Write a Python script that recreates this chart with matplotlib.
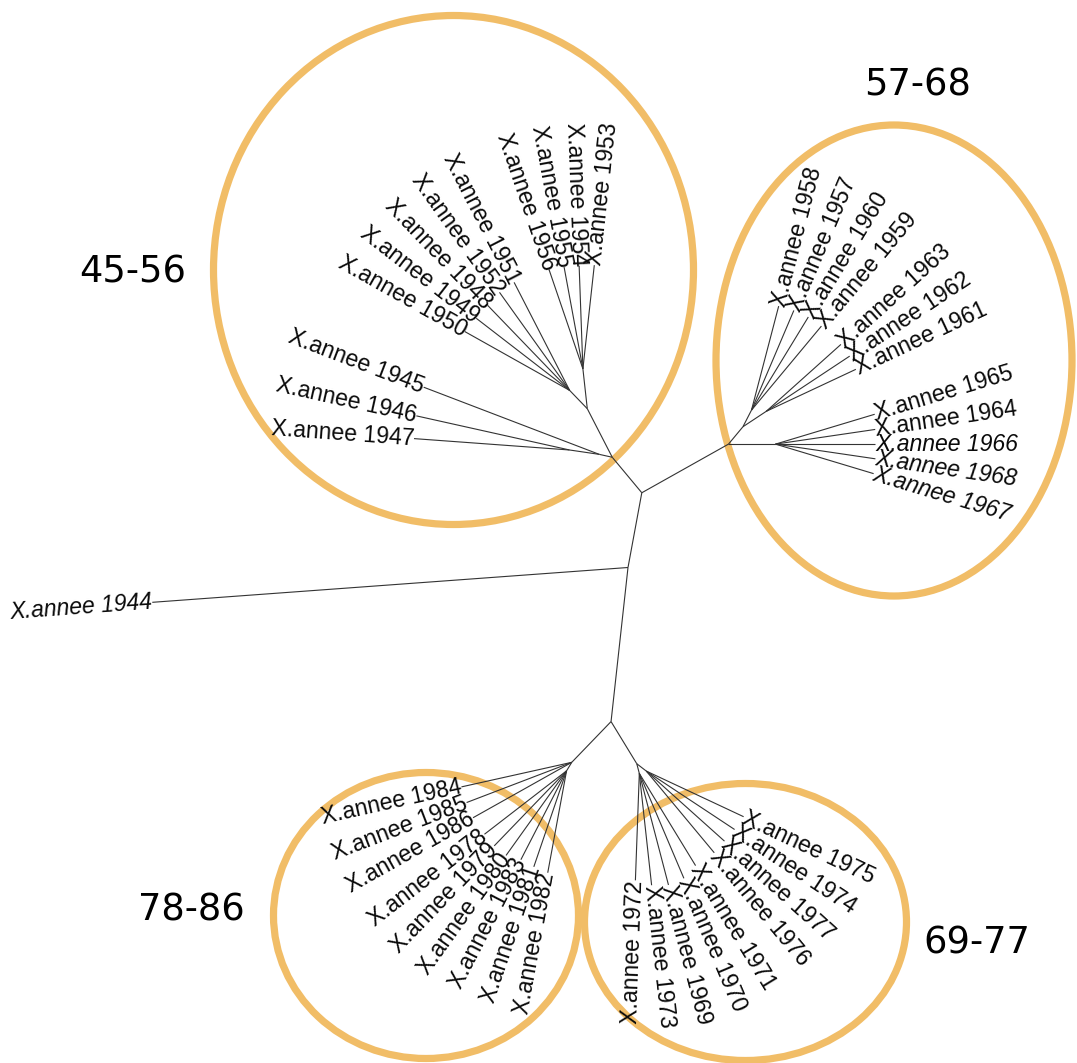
import numpy as np
import matplotlib
matplotlib.use("Agg")
import matplotlib.pyplot as plt
from matplotlib.patches import Ellipse

# arbre non enraciné (disposition "equal angle" comme ape::plot.phylo type="unrooted")
# table des branches: parent, enfant, longueur
edge_parent = ['A', 'A', 'A',
               'C', 'C',
               'D', 'D', 'D', 'D',
               'D2', 'D2', 'D2', 'D2', 'D2', 'D2',
               'E', 'E',
               'E1', 'E1', 'E1', 'E1', 'E1',
               'E2', 'E2', 'E2', 'E2',
               'B', 'B',
               'R', 'R',
               'R1', 'R1', 'R1', 'R1', 'R1',
               'R2', 'R2',
               'R2a', 'R2a', 'R2a',
               'R2b', 'R2b', 'R2b', 'R2b',
               'L0', 'L0',
               'L1', 'L1',
               'L3', 'L3', 'L3', 'L3',
               'L2', 'L2', 'L2', 'L2', 'L2',
               'L4', 'L4',
               'L5', 'L5']
edge_child = ['1944', 'C', 'B',
              'D', 'E',
              '1984', '1985', '1986', 'D2',
              '1978', '1979', '1980', '1983', '1981', '1982',
              'E1', 'E2',
              '1972', '1973', '1969', '1970', '1971',
              '1976', '1977', '1974', '1975',
              'R', 'L0',
              'R1', 'R2',
              '1967', '1968', '1966', '1964', '1965',
              'R2a', 'R2b',
              '1961', '1962', '1963',
              '1959', '1960', '1957', '1958',
              'L1', 'L4',
              'L3', 'L2',
              '1953', '1954', '1955', '1956',
              '1951', '1952', '1948', '1949', '1950',
              '1945', 'L5',
              '1946', '1947']
edge_length = [477, 155, 76,
               56.6, 49.4,
               113, 112.6, 113.2, 10,
               103.7, 104.2, 104, 99.9, 101.4, 103.6,
               10, 12,
               107, 112.5, 115.3, 114, 108,
               106.3, 105, 105.9, 107.5,
               99.4, 46.2,
               47, 22.6,
               102.5, 101, 99.7, 100.8, 103.6,
               27.9, 18.7,
               99, 100.1, 100.3,
               109.3, 109.1, 108.3, 107.5,
               54.6, 13.3,
               40.1, 25.4,
               104.3, 103.1, 103.3, 105,
               121.5, 120.6, 118.2, 118, 120.2,
               188, 30,
               157, 156]

italic_tips = ['1944', '1966', '1967', '1968']

groups = ['45-56', '57-68', '78-86', '69-77']

# position de la racine dans l'image (pixels, y vers le bas)
root_px = (628, 567.5)
W, H = 1077, 1063

children = {}
blen = {}
for p, c, l in zip(edge_parent, edge_child, edge_length):
    children.setdefault(p, []).append(c)
    blen[c] = l

def ntips(n):
    if n not in children:
        return 1
    return sum(ntips(k) for k in children[n])

pos = {'A': (root_px[0], H - root_px[1])}
axis_ang = {}

def layout(node, width, axis):
    start = axis - width / 2
    x0, y0 = pos[node]
    for k in children[node]:
        a = width * ntips(k) / ntips(node)
        beta = start + a / 2
        start += a
        pos[k] = (x0 + blen[k] * np.cos(beta), y0 + blen[k] * np.sin(beta))
        axis_ang[k] = beta
        if k in children:
            layout(k, a, beta)

layout('A', 2 * np.pi, 0.0)

fig = plt.figure(figsize=(W / 100, H / 100), dpi=100)
ax = fig.add_axes([0, 0, 1, 1])
ax.set_xlim(0, W)
ax.set_ylim(0, H)
ax.axis('off')

for p, c in zip(edge_parent, edge_child):
    ax.plot([pos[p][0], pos[c][0]], [pos[p][1], pos[c][1]],
            color='#333333', lw=0.8, solid_capstyle='butt')

for c in edge_child:
    if c in children:
        continue
    ang = np.degrees(axis_ang[c])
    ang = (ang + 180) % 360 - 180
    if -90 < ang <= 90:
        rot, ha = ang, 'left'
    else:
        rot, ha = ang + 180, 'right'
    ax.text(pos[c][0], pos[c][1], 'X.annee ' + c, rotation=rot,
            rotation_mode='anchor', ha=ha, va='center', fontsize=16.6,
            family='Liberation Sans',
            style='italic' if c in italic_tips else 'normal', color='#0a0a0a')

# ellipses des groupes (centre x, centre y, largeur, hauteur en pixels)
ell = [(453.5, 270, 480, 509), (894, 360.5, 356, 471),
       (426, 915.5, 305, 286), (745.5, 922, 322, 277)]
lab = [(133, 272), (918, 85), (191, 910), (977, 943)]
for g, e, t in zip(groups, ell, lab):
    ax.add_patch(Ellipse((e[0], H - e[1]), e[2], e[3], fill=False,
                         ec='#F1BD67', lw=5.2))
    ax.text(t[0], H - t[1], g, ha='center', va='center', fontsize=26.5,
            family='DejaVu Sans', color='black')

fig.savefig('out.png', dpi=100)
